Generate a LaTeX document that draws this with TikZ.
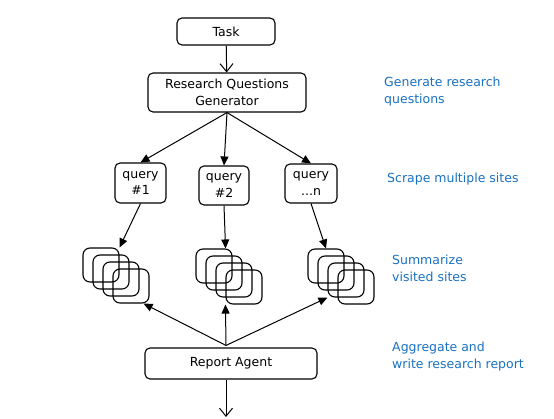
\documentclass[tikz,border=0pt]{standalone}
\usepackage{fontspec}
\setmainfont{DejaVu Sans}
\usetikzlibrary{positioning,arrows.meta}
\definecolor{noteblue}{HTML}{1971C2}

\begin{document}
\begin{tikzpicture}[x=1pt,y=1pt,
  box/.style={draw,rounded corners=5pt,line width=1.1pt,align=center,inner sep=0pt,
    font=\fontsize{12.5}{17}\selectfont},
  page/.style={draw,rounded corners=7pt,line width=1.1pt,minimum width=36pt,
    minimum height=34pt,inner sep=0pt},
  note/.style={anchor=west,align=left,inner sep=0pt,text=noteblue,
    font=\fontsize{12.5}{17}\selectfont},
  barb/.style={-{Straight Barb[length=8pt,width=13pt]},line width=1pt},
  head/.style={-{Triangle[length=9pt,width=8pt]},line width=1pt}]
  \useasboundingbox (0,0) rectangle (554,418);

  \node[box,minimum width=98pt,minimum height=27pt] (task) at (226,386.5) {Task};
  \node[box,minimum width=158pt,minimum height=39pt] (gen) at (227,325.5) {Research Questions\\Generator};

  \node[box,minimum width=51pt,minimum height=40pt] (q1) at (140.5,235) {query\\\#1};
  \node[box,minimum width=50pt,minimum height=39pt] (q2) at (224,232.5) {query\\\#2};
  \node[box,minimum width=52pt,minimum height=39pt] (qn) at (311,234.5) {query\\...n};

  \foreach \s/\x/\y in {1/101/153,2/214/152,3/326/152}
  \foreach \i/\n in {0/a,1/b,2/c,3/d}
  \node[page] (s\s\n) at (\x+10*\i,\y-7*\i) {};

  \node[box,minimum width=172pt,minimum height=31pt] (report) at (231,54.5) {Report Agent};

  \draw[barb] (task) -- (gen);
  \foreach \q in {q1,q2,qn}
  \draw[head] (gen.south) -- (\q.north);

  \draw[head] (q1.south) -- (s1a.north east);
  \draw[head] (q2.south) -- ([xshift=-7pt]s2a.north east);
  \draw[head] (qn.south) -- (s3a.north);

  \coordinate (fork) at ([xshift=-5pt,yshift=2pt]report.north);
  \draw[head] (fork) -- ([xshift=-6pt]s1d.south east);
  \draw[head] (fork) -- (s2d.south west);
  \draw[head] (fork) -- (s3c.south west);

  \coordinate (out) at (226,1);
  \draw[barb] ([xshift=-5pt]report.south) -- (out);

  \node[note] (n1) at (384,326.5) {Generate research\\questions};
  \node[note] (n2) at (387,239) {Scrape multiple sites};
  \node[note] (n3) at (392,149.5) {Summarize\\visited sites};
  \node[note] (n4) at (392,61.5) {Aggregate and\\write research report};

\end{tikzpicture}
\end{document}
